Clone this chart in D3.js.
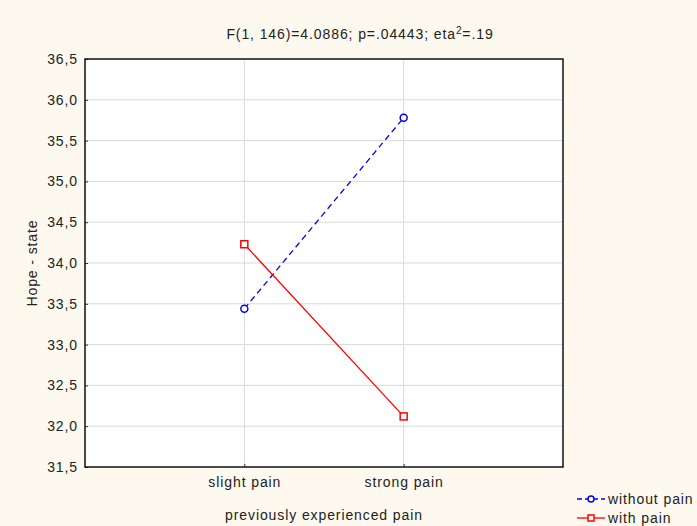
<!DOCTYPE html>
<html>
<head>
<meta charset="utf-8">
<script src="https://cdn.jsdelivr.net/npm/d3@7"></script>
<style>
  body { margin: 0; background: #fdf9ee; }
  svg { display: block; font-family: "Liberation Sans", Arial, sans-serif; }
  text { letter-spacing: 0.9px; }
</style>
</head>
<body>
<div id="grafico"></div>
<script>
const categorias = ["slight pain", "strong pain"];
const semDor = [33.44, 35.78];   // without pain
const comDor = [34.23, 32.12];   // with pain
const ticksY = [31.5, 32, 32.5, 33, 33.5, 34, 34.5, 35, 35.5, 36, 36.5];

const largura = 697, altura = 526;
const m = { left: 85, right: 563, top: 59, bottom: 467 };

const svg = d3.select("#grafico").append("svg")
    .attr("width", largura).attr("height", altura);

const x = d3.scalePoint().domain(categorias).range([m.left, m.right]).padding(1);
const y = d3.scaleLinear().domain([31.5, 36.5]).range([m.bottom, m.top]);

// fundo branco da area do grafico
svg.append("rect")
    .attr("x", m.left).attr("y", m.top)
    .attr("width", m.right - m.left).attr("height", m.bottom - m.top)
    .attr("fill", "white");

// grelha
svg.append("g").selectAll("line").data(ticksY.slice(1, -1)).enter().append("line")
    .attr("x1", m.left).attr("x2", m.right)
    .attr("y1", d => y(d)).attr("y2", d => y(d))
    .attr("stroke", "#d9d9d9");
svg.append("g").selectAll("line").data(categorias).enter().append("line")
    .attr("x1", d => x(d)).attr("x2", d => x(d))
    .attr("y1", m.top).attr("y2", m.bottom)
    .attr("stroke", "#d9d9d9");

// eixo y
const eixoY = svg.append("g")
    .attr("transform", `translate(${m.left},0)`)
    .call(d3.axisLeft(y).tickValues(ticksY).tickSize(-3).tickPadding(7)
        .tickFormat(d => d3.format(".1f")(d).replace(".", ",")));
eixoY.select(".domain").remove();
eixoY.selectAll("text").style("font-size", "14px").attr("fill", "#222");
eixoY.selectAll("line").attr("stroke", "#333");

// eixo x
const eixoX = svg.append("g")
    .attr("transform", `translate(0,${m.bottom})`)
    .call(d3.axisBottom(x).tickSize(-3).tickPadding(10));
eixoX.select(".domain").remove();
eixoX.selectAll("text").style("font-size", "14px").attr("fill", "#222");
eixoX.selectAll("line").attr("stroke", "#333");

// moldura
svg.append("rect")
    .attr("x", m.left).attr("y", m.top)
    .attr("width", m.right - m.left).attr("height", m.bottom - m.top)
    .attr("fill", "none").attr("stroke", "#111").attr("stroke-width", 1.5);

// linhas
const linha = d3.line().x((d, i) => x(categorias[i])).y(d => y(d));
svg.append("path").datum(semDor).attr("d", linha)
    .attr("fill", "none").attr("stroke", "blue").attr("stroke-width", 1.3)
    .attr("stroke-dasharray", "6,4");
svg.append("path").datum(comDor).attr("d", linha)
    .attr("fill", "none").attr("stroke", "red").attr("stroke-width", 1.3);

// marcadores
svg.selectAll(".circ").data(semDor).enter().append("circle")
    .attr("cx", (d, i) => x(categorias[i])).attr("cy", d => y(d)).attr("r", 3.5)
    .attr("fill", "white").attr("stroke", "blue").attr("stroke-width", 1.5);
svg.selectAll(".quad").data(comDor).enter().append("rect")
    .attr("x", (d, i) => x(categorias[i]) - 3.5).attr("y", d => y(d) - 3.5)
    .attr("width", 7).attr("height", 7)
    .attr("fill", "white").attr("stroke", "red").attr("stroke-width", 1.5);

// titulo
const titulo = svg.append("text")
    .attr("x", 360).attr("y", 39).attr("text-anchor", "middle")
    .style("font-size", "14px").attr("fill", "#222");
titulo.append("tspan").text("F(1, 146)=4.0886; p=.04443; eta");
titulo.append("tspan").attr("dy", -5).style("font-size", "10px").text("2");
titulo.append("tspan").attr("dy", 5).text("=.19");

// rotulos dos eixos
svg.append("text")
    .attr("transform", `translate(37,${(m.top + m.bottom) / 2}) rotate(-90)`)
    .attr("text-anchor", "middle").style("font-size", "14px").attr("fill", "#222")
    .text("Hope - state");
svg.append("text")
    .attr("x", (m.left + m.right) / 2).attr("y", 520).attr("text-anchor", "middle")
    .style("font-size", "14px").attr("fill", "#222")
    .text("previously experienced pain");

// legenda
const legenda = [
    { nome: "without pain", cor: "blue", tracejado: "5,3", forma: "circle" },
    { nome: "with pain", cor: "red", tracejado: null, forma: "square" }
];
const lg = svg.selectAll(".leg").data(legenda).enter().append("g")
    .attr("transform", (d, i) => `translate(577,${499 + i * 19})`);
lg.append("line").attr("x1", 0).attr("x2", 28).attr("y1", 0).attr("y2", 0)
    .attr("stroke", d => d.cor).attr("stroke-width", 1.3)
    .attr("stroke-dasharray", d => d.tracejado);
lg.filter(d => d.forma === "circle").append("circle")
    .attr("cx", 14).attr("cy", 0).attr("r", 3)
    .attr("fill", "white").attr("stroke", "blue").attr("stroke-width", 1.5);
lg.filter(d => d.forma === "square").append("rect")
    .attr("x", 11).attr("y", -3).attr("width", 6).attr("height", 6)
    .attr("fill", "white").attr("stroke", "red").attr("stroke-width", 1.5);
lg.append("text").attr("x", 31).attr("y", 5)
    .style("font-size", "14px").attr("fill", "#222").text(d => d.nome);
</script>
</body>
</html>
